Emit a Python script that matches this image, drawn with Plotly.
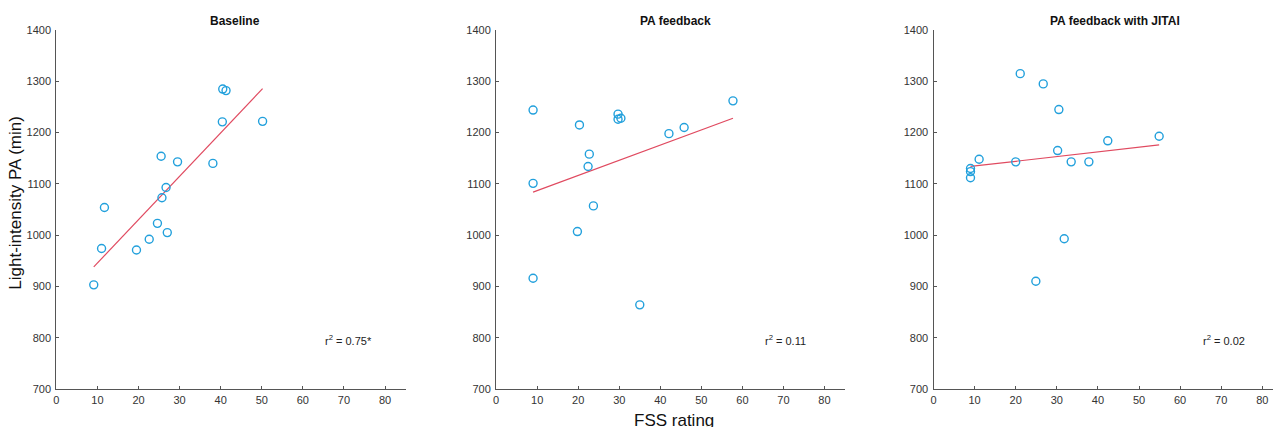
import plotly.graph_objects as go

# ---- data ----
titles = ["Baseline", "PA feedback", "PA feedback with JITAI"]
r2_labels = ["r<sup>2</sup> = 0.75*", "r<sup>2</sup> = 0.11", "r<sup>2</sup> = 0.02"]

base_fss = [9.1, 11.0, 11.7, 19.5, 22.6, 24.6, 25.5, 25.7, 26.7, 27.0, 29.5, 38.1, 40.4, 40.5, 41.3, 50.2]
base_pa = [903, 974, 1054, 971, 992, 1023, 1154, 1073, 1093, 1005, 1143, 1140, 1221, 1285, 1282, 1222]
base_fit_x = [9.1, 50.2]
base_fit_y = [938, 1286]

fb_fss = [9.0, 9.0, 9.0, 19.8, 20.3, 22.4, 22.7, 23.7, 29.7, 29.7, 30.4, 35.0, 42.1, 45.8, 57.7]
fb_pa = [1244, 1101, 916, 1007, 1215, 1134, 1158, 1057, 1236, 1226, 1228, 864, 1198, 1210, 1262]
fb_fit_x = [9.0, 57.7]
fb_fit_y = [1084, 1228]

jit_fss = [9.0, 9.0, 9.0, 11.1, 20.0, 21.1, 24.9, 26.7, 30.2, 30.5, 31.8, 33.5, 37.8, 42.4, 54.9]
jit_pa = [1130, 1124, 1112, 1148, 1143, 1315, 910, 1295, 1165, 1245, 993, 1143, 1143, 1184, 1193]
jit_fit_x = [9.0, 54.9]
jit_fit_y = [1134, 1176]

x_ticks = [0, 10, 20, 30, 40, 50, 60, 70, 80]
y_ticks = [700, 800, 900, 1000, 1100, 1200, 1300, 1400]

# ---- figure ----
W, H = 1273, 427
marker_color = "#22a0dc"
line_color = "#e04a60"
axis_color = "#555555"
font_family = "Arial, Liberation Sans, sans-serif"
tick_font = dict(family=font_family, size=11, color="#333333")

panels = [
    (base_fss, base_pa, base_fit_x, base_fit_y),
    (fb_fss, fb_pa, fb_fit_x, fb_fit_y),
    (jit_fss, jit_pa, jit_fit_x, jit_fit_y),
]
x_domains = [(53.5 / W, 403.5 / W), (494.3 / W, 844 / W), (932.7 / W, 1.0)]
x_ranges = [[0, 85], [0, 85], [0, (1273 - 932.7) / 4.12]]
title_x = [233 / W, 674 / W, 1115 / W]
top_px, bot_px = 24.8, 394.0
y_domain = (1 - bot_px / H, 1 - top_px / H)

fig = go.Figure()
layout = dict(
    width=W, height=H,
    margin=dict(l=0, r=0, t=0, b=0),
    paper_bgcolor="white", plot_bgcolor="white",
    showlegend=False,
    annotations=[],
)

for i, (xs, ys, fx, fy) in enumerate(panels):
    sfx = "" if i == 0 else str(i + 1)
    fig.add_trace(go.Scatter(
        x=fx, y=fy, mode="lines",
        line=dict(color=line_color, width=1.2),
        xaxis="x" + sfx, yaxis="y" + sfx, hoverinfo="skip",
    ))
    fig.add_trace(go.Scatter(
        x=xs, y=ys, mode="markers",
        marker=dict(symbol="circle-open", size=8, color=marker_color,
                    line=dict(width=1.4, color=marker_color)),
        xaxis="x" + sfx, yaxis="y" + sfx,
    ))
    layout["xaxis" + sfx] = dict(
        domain=list(x_domains[i]), range=x_ranges[i], anchor="y" + sfx,
        tickmode="array", tickvals=x_ticks, ticks="inside", ticklen=3,
        tickcolor=axis_color, showline=True, linecolor=axis_color, linewidth=1.2,
        showgrid=False, zeroline=False, tickfont=tick_font, ticklabelstandoff=1,
        fixedrange=True,
    )
    layout["yaxis" + sfx] = dict(
        domain=list(y_domain), range=[700, 1400], anchor="x" + sfx,
        tickmode="array", tickvals=y_ticks, ticks="inside", ticklen=3,
        tickcolor=axis_color, showline=True, linecolor=axis_color, linewidth=1.2,
        showgrid=False, zeroline=False, tickfont=tick_font, ticklabelstandoff=2,
        fixedrange=True,
    )
    layout["annotations"].append(dict(
        text="<b>" + titles[i] + "</b>", xref="paper", yref="paper",
        x=title_x[i], y=1 - 15.5 / H, xanchor="center", yanchor="middle", showarrow=False,
        font=dict(family=font_family, size=12, color="#111111"),
    ))
    layout["annotations"].append(dict(
        text=r2_labels[i], xref="x" + sfx, yref="y" + sfx,
        x=65, y=796, xanchor="left", yanchor="middle", showarrow=False,
        font=dict(family=font_family, size=11, color="#222222"),
    ))

layout["annotations"].append(dict(
    text="Light-intensity PA (min)", xref="paper", yref="paper",
    x=13 / W, y=1 - 202.4 / H, textangle=-90, xanchor="center", yanchor="middle",
    showarrow=False,
    font=dict(family=font_family, size=17, color="#111111"),
))
layout["annotations"].append(dict(
    text="FSS rating", xref="paper", yref="paper",
    x=673 / W, y=1 - 426 / H, xanchor="center", yanchor="middle",
    showarrow=False,
    font=dict(family=font_family, size=17, color="#111111"),
))

fig.update_layout(**layout)
fig.write_html(
    "out.html",
    config={"displayModeBar": False},
    post_script="document.body.style.margin='0';document.body.style.overflow='hidden';",
)
